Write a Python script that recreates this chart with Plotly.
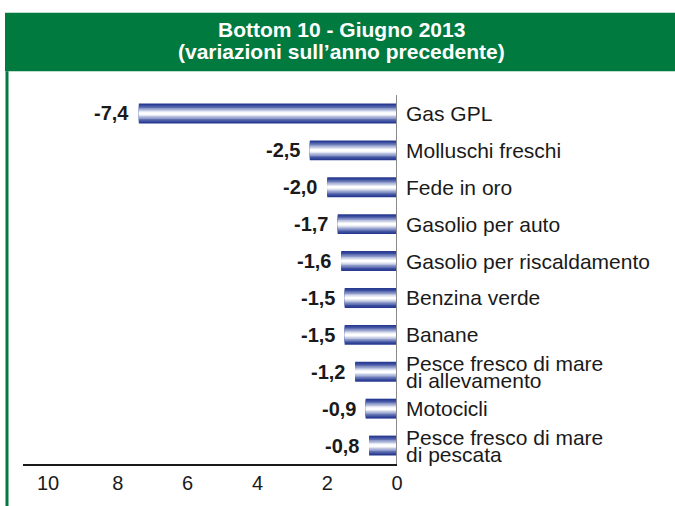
import plotly.graph_objects as go

categories = [
    "Gas GPL",
    "Molluschi freschi",
    "Fede in oro",
    "Gasolio per auto",
    "Gasolio per riscaldamento",
    "Benzina verde",
    "Banane",
    "Pesce fresco di mare\ndi allevamento",
    "Motocicli",
    "Pesce fresco di mare\ndi pescata",
]
values = [-7.4, -2.5, -2.0, -1.7, -1.6, -1.5, -1.5, -1.2, -0.9, -0.8]
tick_vals = [-10, -8, -6, -4, -2, 0]
tick_text = ["10", "8", "6", "4", "2", "0"]
title_lines = ["Bottom 10 - Giugno 2013", "(variazioni sull\u2019anno precedente)"]

W, H = 675, 506
L, R, T, B = 23, 278, 95, 39
PW, PH = W - L - R, H - T - B

def px_x(p):
    return (p - L) / PW

def px_y(p):
    return (H - B - p) / PH

ids = list(range(len(categories)))

fig = go.Figure()
# gradient effect: overlaid bars of decreasing thickness
layers = [
    (0.54, "#283b90"),
    (0.46, "#3a4d9f"),
    (0.38, "#5f6fb1"),
    (0.30, "#8d9aca"),
    (0.22, "#bac2df"),
    (0.14, "#e3e7f3"),
    (0.07, "#ffffff"),
]
for w, c in layers:
    fig.add_trace(go.Bar(
        x=values, y=ids, orientation="h", width=w,
        marker=dict(color=c, line=dict(width=0)),
        hoverinfo="skip", showlegend=False,
    ))

annotations = []
font_main = "Liberation Sans, Arial, sans-serif"
for i, (cat, v) in enumerate(zip(categories, values)):
    annotations.append(dict(
        x=v, y=i, xref="x", yref="y", xanchor="right", yanchor="middle",
        xshift=-8, showarrow=False,
        text="<b>" + f"{v:.1f}".replace(".", ",") + "</b>",
        font=dict(family=font_main, size=20, color="#1a1a1a"),
    ))
    lines = cat.split("\n")
    n = len(lines)
    for k, ln in enumerate(lines):
        annotations.append(dict(
            x=0, y=i, xref="x", yref="y", xanchor="left", yanchor="middle",
            xshift=7, yshift=(n - 1) * 8.5 - k * 17, showarrow=False,
            text=ln, font=dict(family=font_main, size=21, color="#1a1a1a"),
        ))

for k, t in enumerate(title_lines):
    annotations.append(dict(
        x=px_x(341), y=px_y(29 + 22 * k), xref="paper", yref="paper",
        xanchor="center", yanchor="middle", showarrow=False,
        text="<b>" + t + "</b>",
        font=dict(family=font_main, size=21, color="white"),
    ))

shapes = [
    dict(type="rect", xref="paper", yref="paper",
         x0=px_x(5), x1=px_x(W + 5), y0=px_y(71), y1=px_y(12),
         fillcolor="#007a3f", line=dict(width=0), layer="below"),
    dict(type="line", xref="paper", yref="paper",
         x0=px_x(7), x1=px_x(7), y0=px_y(71), y1=px_y(H + 5),
         line=dict(color="#007a3f", width=3)),
    dict(type="line", xref="x", yref="paper",
         x0=0, x1=0, y0=0, y1=1,
         line=dict(color="#8a8a8a", width=2)),
]

fig.update_layout(
    width=W, height=H,
    margin=dict(l=L, r=R, t=T, b=B, pad=0),
    paper_bgcolor="white", plot_bgcolor="white",
    barmode="overlay",
    annotations=annotations, shapes=shapes,
    xaxis=dict(
        range=[-10.72, 0], tickvals=tick_vals, ticktext=tick_text,
        showgrid=False, zeroline=False, showline=True,
        linecolor="#1a1a1a", linewidth=1.5, ticks="",
        tickfont=dict(family=font_main, size=20, color="#1a1a1a"),
        fixedrange=True,
    ),
    yaxis=dict(
        range=[len(categories) - 0.5, -0.5], showticklabels=False,
        showgrid=False, zeroline=False, showline=False, ticks="",
        fixedrange=True,
    ),
)

fig.write_html(
    "out.html",
    config={"displayModeBar": False},
    post_script="document.body.style.margin='0';document.body.style.overflow='hidden';",
)
